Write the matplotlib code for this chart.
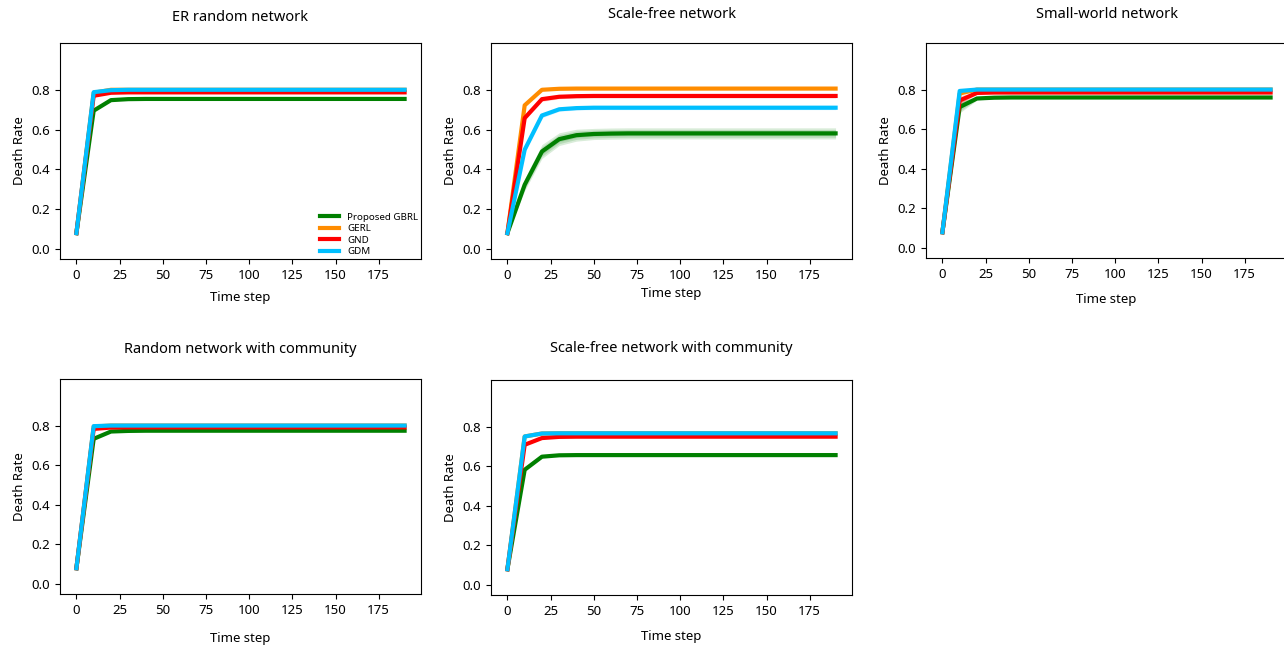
import numpy as np
import matplotlib
matplotlib.use("Agg")
import matplotlib.pyplot as plt

plt.rcParams['font.family'] = ['Noto Sans', 'DejaVu Sans']

# time steps
time = np.arange(0, 200, 10)

methods = ["Proposed GBRL", "GERL", "GND", "GDM"]
colors = ["green", "darkorange", "red", "deepskyblue"]

titles = ["ER random network", "Scale-free network", "Small-world network",
          "Random network with community", "Scale-free network with community"]

# mean death rate per panel / method
er_gbrl = [0.08, 0.695, 0.748, 0.753] + [0.754] * 16
er_gerl = [0.08, 0.785, 0.800, 0.800] + [0.800] * 16
er_gnd = [0.08, 0.770, 0.785, 0.787] + [0.787] * 16
er_gdm = [0.08, 0.788, 0.798, 0.800] + [0.800] * 16

sf_gbrl = [0.08, 0.323, 0.490, 0.552, 0.572, 0.578, 0.580] + [0.581] * 13
sf_gerl = [0.08, 0.722, 0.800, 0.805, 0.806] + [0.806] * 15
sf_gnd = [0.08, 0.658, 0.753, 0.765, 0.768] + [0.769] * 15
sf_gdm = [0.08, 0.499, 0.671, 0.702, 0.708] + [0.710] * 15

sw_gbrl = [0.08, 0.712, 0.755, 0.759] + [0.760] * 16
sw_gerl = [0.08, 0.780, 0.800, 0.800] + [0.800] * 16
sw_gnd = [0.08, 0.745, 0.783, 0.785] + [0.785] * 16
sw_gdm = [0.08, 0.793, 0.800, 0.800] + [0.800] * 16

rc_gbrl = [0.08, 0.733, 0.770, 0.773] + [0.774] * 16
rc_gerl = [0.08, 0.795, 0.800, 0.800] + [0.800] * 16
rc_gnd = [0.08, 0.783, 0.790, 0.791] + [0.791] * 16
rc_gdm = [0.08, 0.797, 0.800, 0.800] + [0.800] * 16

sc_gbrl = [0.08, 0.582, 0.648, 0.655] + [0.656] * 16
sc_gerl = [0.08, 0.750, 0.765, 0.766] + [0.766] * 16
sc_gnd = [0.08, 0.708, 0.742, 0.748] + [0.749] * 16
sc_gdm = [0.08, 0.750, 0.765, 0.766] + [0.766] * 16

# spread (std) where a band is visible
sf_gbrl_std = [0.0, 0.030, 0.035, 0.032, 0.030, 0.028] + [0.028] * 14
sf_gnd_std = [0.0, 0.012, 0.012, 0.010] + [0.010] * 16
sf_gdm_std = [0.0, 0.012, 0.012, 0.010] + [0.010] * 16
sw_gbrl_std = [0.0, 0.030, 0.008, 0.005] + [0.005] * 16
sw_gnd_std = [0.0, 0.025, 0.005, 0.004] + [0.004] * 16

panels = [
    [er_gbrl, er_gerl, er_gnd, er_gdm],
    [sf_gbrl, sf_gerl, sf_gnd, sf_gdm],
    [sw_gbrl, sw_gerl, sw_gnd, sw_gdm],
    [rc_gbrl, rc_gerl, rc_gnd, rc_gdm],
    [sc_gbrl, sc_gerl, sc_gnd, sc_gdm],
]
bands = {
    (1, 0): sf_gbrl_std, (1, 2): sf_gnd_std, (1, 3): sf_gdm_std,
    (2, 0): sw_gbrl_std, (2, 2): sw_gnd_std,
}

# axes boxes in pixels: left, right, top, bottom
W, H = 1284, 645
boxes = [(60, 421, 43, 259), (491, 852, 43, 259), (926, 1287, 43, 258),
         (60, 421, 379, 594), (491, 852, 380, 595)]
title_pads = [16, 18, 18, 19, 20]
label_pads = [7, 4, 9, 11, 9]

fig = plt.figure(figsize=(W / 100, H / 100), dpi=100)

for i, (l, r, t, b) in enumerate(boxes):
    ax = fig.add_axes([l / W, 1 - b / H, (r - l) / W, (b - t) / H])
    for j, series in enumerate(panels[i]):
        y = np.array(series)
        if (i, j) in bands:
            s = np.array(bands[(i, j)])
            for k in (1.0, 0.7, 0.4):
                ax.fill_between(time, y - k * s, y + k * s, color=colors[j],
                                alpha=0.15, linewidth=0)
        ax.plot(time, y, color=colors[j], lw=3, label=methods[j])
    ax.set_ylim(-0.05, 1.035)
    ax.set_yticks([0.0, 0.2, 0.4, 0.6, 0.8])
    ax.set_xticks([0, 25, 50, 75, 100, 125, 150, 175])
    ax.tick_params(labelsize=9.5)
    ax.set_title(titles[i], fontsize=10.5, pad=title_pads[i])
    ax.set_xlabel("Time step", fontsize=9.5, labelpad=label_pads[i])
    ax.set_ylabel("Death Rate", fontsize=9.5)
    if i == 0:
        ax.legend(loc="lower right", fontsize=7, frameon=False,
                  borderaxespad=0.0, borderpad=0.3, labelspacing=0.25,
                  handlelength=2.0)

fig.savefig("out.png", dpi=100)
